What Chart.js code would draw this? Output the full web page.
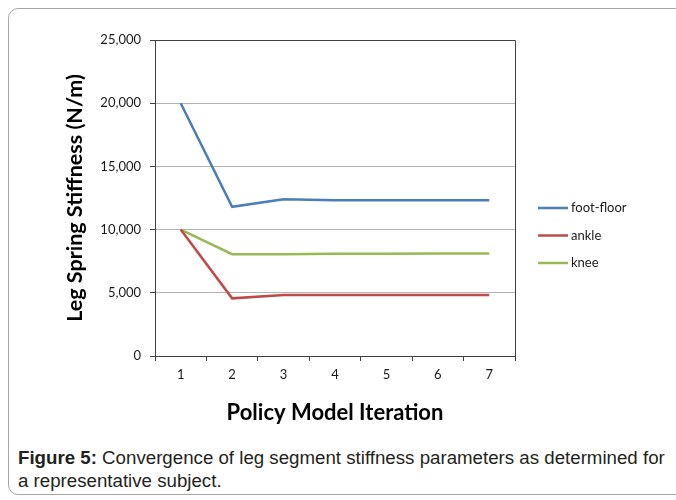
<!DOCTYPE html>
<html>
<head>
<meta charset="utf-8">
<script src="https://cdn.jsdelivr.net/npm/chart.js@4/dist/chart.umd.min.js"></script>
<style>
  html, body { margin: 0; padding: 0; background: #fff; }
  body { width: 676px; height: 500px; position: relative; overflow: hidden; }
  #frame {
    position: absolute; left: 8px; top: 8px; width: 720px; height: 487px;
    border: 1px solid #a6a6a6; border-radius: 10px; box-sizing: border-box;
  }
  #wrap { position: absolute; left: 0; top: 0; width: 676px; height: 440px; }
  #caption {
    position: absolute; left: 18px; top: 446px; width: 660px;
    font-family: "Liberation Sans", Arial, sans-serif; font-size: 18.7px;
    line-height: 23px; color: #231f20; white-space: nowrap;
  }
  #caption b { font-weight: bold; }
</style>
</head>
<body>
<div id="frame"></div>
<div id="wrap"><canvas id="chart" width="676" height="440"></canvas></div>
<div id="caption"><b>Figure 5:</b> Convergence of leg segment stiffness parameters as determined for<br>a representative subject.</div>
<script>
// Policy model iterations and the stiffness found at each one (N/m)
const iterations = ['1', '2', '3', '4', '5', '6', '7'];
const footFloor = [20000, 11800, 12400, 12330, 12330, 12330, 12330];
const ankle = [10000, 4560, 4830, 4830, 4830, 4830, 4830];
const knee = [10000, 8050, 8050, 8080, 8090, 8100, 8100];
const seriesNames = ['foot-floor', 'ankle', 'knee'];
const seriesColors = ['#4a7ebb', '#be4b48', '#98b954'];
const yTicks = [0, 5000, 10000, 15000, 20000, 25000];

const tickFont = { family: 'Lato, "Open Sans", sans-serif', size: 13 };

// Frame around the plot area (top and right edges)
const plotFrame = {
  id: 'plotFrame',
  afterDatasetsDraw(chart) {
    const { ctx, chartArea: a } = chart;
    ctx.save();
    ctx.strokeStyle = '#404040';
    ctx.lineWidth = 1;
    ctx.beginPath();
    ctx.moveTo(Math.round(a.left) + 0.5, Math.round(a.top) + 0.5);
    ctx.lineTo(Math.round(a.right) + 0.5, Math.round(a.top) + 0.5);
    ctx.lineTo(Math.round(a.right) + 0.5, Math.round(a.bottom) + 0.5);
    ctx.stroke();
    ctx.restore();
  }
};

// Legend drawn to the right of the plot
const sideLegend = {
  id: 'sideLegend',
  afterDraw(chart) {
    const { ctx } = chart;
    const x0 = chart.chartArea.right + 23;
    const y0 = 208, step = 27.5;
    ctx.save();
    ctx.font = '13px Lato, "Open Sans", sans-serif';
    ctx.textBaseline = 'middle';
    chart.data.datasets.forEach((ds, i) => {
      const y = y0 + i * step;
      ctx.strokeStyle = ds.borderColor;
      ctx.lineWidth = 2.5;
      ctx.beginPath();
      ctx.moveTo(x0, y);
      ctx.lineTo(x0 + 30, y);
      ctx.stroke();
      ctx.fillStyle = '#1a1a1a';
      ctx.fillText(ds.label, x0 + 33, y);
    });
    ctx.restore();
  }
};

const seriesValues = [footFloor, ankle, knee];

new Chart(document.getElementById('chart'), {
  type: 'line',
  data: {
    labels: iterations,
    datasets: seriesValues.map((vals, i) => ({
      label: seriesNames[i],
      data: vals,
      borderColor: seriesColors[i],
      backgroundColor: seriesColors[i],
      borderWidth: 2.5,
      pointRadius: 0,
      tension: 0,
      fill: false
    }))
  },
  options: {
    responsive: false,
    animation: false,
    events: [],
    layout: { padding: { left: 0, top: 40, right: 161, bottom: 0 } },
    plugins: { legend: { display: false }, tooltip: { enabled: false } },
    scales: {
      x: {
        type: 'category',
        offset: true,
        grid: {
          offset: true,
          drawOnChartArea: false,
          drawTicks: true,
          tickLength: 5,
          tickColor: '#404040'
        },
        border: { color: '#404040', width: 1 },
        ticks: { font: tickFont, color: '#1a1a1a', padding: 6, maxRotation: 0 },
        title: {
          display: true,
          text: 'Policy Model Iteration',
          font: { family: 'Lato, "Open Sans", sans-serif', size: 22, weight: 'bold' },
          color: '#000',
          padding: { top: 0, bottom: 14 }
        },
        afterFit(scale) { scale.height = 84; }
      },
      y: {
        min: 0,
        max: 25000,
        afterBuildTicks(scale) { scale.ticks = yTicks.map(v => ({ value: v })); },
        grid: {
          color: ctx => (ctx.tick && (ctx.tick.value === 0 || ctx.tick.value === 25000)) ? 'rgba(0,0,0,0)' : '#b3b3b3',
          lineWidth: 1,
          drawTicks: true,
          tickLength: 5,
          tickColor: '#404040'
        },
        border: { color: '#404040', width: 1 },
        ticks: {
          font: tickFont,
          color: '#1a1a1a',
          padding: 9,
          callback: v => v.toLocaleString('en-US')
        },
        title: {
          display: true,
          text: 'Leg Spring Stiffness (N/m)',
          font: { family: 'Lato, "Open Sans", sans-serif', size: 21.5, weight: 'bold' },
          color: '#000',
          padding: { top: 62, bottom: 0 }
        },
        afterFit(scale) { scale.width = 155; }
      }
    }
  },
  plugins: [plotFrame, sideLegend]
});
</script>
</body>
</html>
